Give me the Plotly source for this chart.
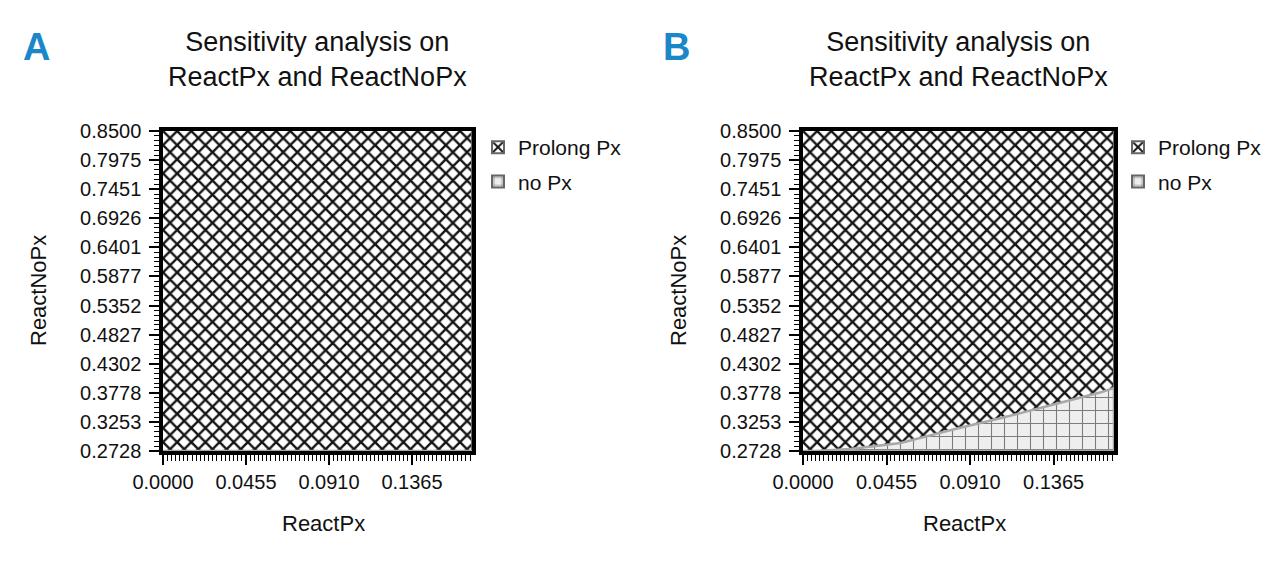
import plotly.graph_objects as go

# ---- data ----
panel_labels = ["A", "B"]
chart_title = "Sensitivity analysis on<br>ReactPx and ReactNoPx"
x_title = "ReactPx"
y_title = "ReactNoPx"
series_names = ["Prolong Px", "no Px"]

react_px_range = [0.0, 0.1694]
react_nopx_range = [0.2728, 0.8500]
x_ticks = [0.0000, 0.0455, 0.0910, 0.1365]
y_ticks = [0.8500, 0.7975, 0.7451, 0.6926, 0.6401, 0.5877,
           0.5352, 0.4827, 0.4302, 0.3778, 0.3253, 0.2728]

# threshold curve (ReactNoPx below which "no Px" is preferred)
boundary_A_x = [0.0, 0.1694]
boundary_A_y = [0.2728, 0.2728]
boundary_B_x = [0.0, 0.0066, 0.0258, 0.0532, 0.0806, 0.1080, 0.1354, 0.1628, 0.1694]
boundary_B_y = [0.2728, 0.2728, 0.2764, 0.2872, 0.3107, 0.3323, 0.3558, 0.3792, 0.3864]

# ---- styling ----
FONT = "Liberation Sans"
px_x0, px_x1 = react_px_range
py_y0, py_y1 = react_nopx_range

prolong_pattern = dict(shape="x", size=10, solidity=0.42, fgcolor="#141414",
                       bgcolor="white", fillmode="replace")
nopx_pattern = dict(shape="+", size=13, solidity=0.16, fgcolor="#7c7c7c",
                    bgcolor="#eeeeee", fillmode="replace")

W, H = 1280, 582
OFF = 8  # page body margin


def fx(p):
    return (p - OFF) / W


def fy(p):
    return (H - (p - OFF)) / H


domains = [(fx(163), fx(472)), (fx(803), fx(1114))]
ydom = (fy(451), fy(131))

fig = go.Figure()
boundaries = [(boundary_A_x, boundary_A_y), (boundary_B_x, boundary_B_y)]
for i, (bx, by) in enumerate(boundaries):
    xa = "x" if i == 0 else "x2"
    ya = "y" if i == 0 else "y2"
    lg = "legend" if i == 0 else "legend2"
    # Prolong Px: full region
    fig.add_trace(go.Bar(
        x=[(px_x0 + px_x1) / 2], width=[px_x1 - px_x0],
        base=[py_y0], y=[py_y1 - py_y0],
        name=series_names[0], xaxis=xa, yaxis=ya, legend=lg,
        legendgroup="p%d" % i,
        marker=dict(color="white", pattern=prolong_pattern,
                    line=dict(color="#666", width=1)),
        hoverinfo="skip"))
    # no Px region below threshold curve
    poly_x = list(bx) + [bx[-1], bx[0]]
    poly_y = list(by) + [py_y0, py_y0]
    fig.add_trace(go.Scatter(
        x=poly_x, y=poly_y, fill="toself", mode="lines",
        line=dict(color="#a8a8a8", width=2.5),
        fillpattern=nopx_pattern, fillcolor="#eeeeee",
        showlegend=False, xaxis=xa, yaxis=ya, hoverinfo="skip"))
    # legend entry for no Px
    fig.add_trace(go.Bar(
        x=[(px_x0 + px_x1) / 2], width=[px_x1 - px_x0],
        base=[py_y0], y=[0],
        name=series_names[1], xaxis=xa, yaxis=ya, legend=lg,
        legendgroup="n%d" % i,
        marker=dict(color="#eeeeee", pattern=nopx_pattern,
                    line=dict(color="#666", width=1)),
        hoverinfo="skip"))

axis_common = dict(
    showline=True, linewidth=3.5, linecolor="black", mirror=True,
    ticks="outside", tickcolor="black", tickwidth=1.5,
    showgrid=False, zeroline=False, fixedrange=True,
    tickfont=dict(family=FONT, size=20, color="#111"),
)

layout = dict(
    width=W, height=H, margin=dict(l=0, r=0, t=0, b=0, autoexpand=False),
    paper_bgcolor="white", plot_bgcolor="white",
    barmode="overlay", bargap=0,
    font=dict(family=FONT, color="#111"),
    annotations=[],
)
for i in range(2):
    sx = "" if i == 0 else "2"
    layout["xaxis" + sx] = dict(
        axis_common, domain=domains[i], range=react_px_range,
        tickvals=x_ticks, tickformat=".4f", ticklen=10,
        minor=dict(ticks="outside", dtick=0.0455 / 20, ticklen=6,
                   tickcolor="black", tickwidth=1),
        anchor="y" + sx)
    layout["yaxis" + sx] = dict(
        axis_common, domain=ydom, range=react_nopx_range,
        tickvals=y_ticks, tickformat=".4f", ticklen=10, ticklabelstandoff=4,
        minor=dict(ticks="outside", tickvals=[
            y_ticks[-1] + k * (y_ticks[0] - y_ticks[-1]) / 66 for k in range(67)],
            ticklen=5, tickcolor="black", tickwidth=1),
        anchor="x" + sx)
    d0, d1 = domains[i]
    cx = (d0 + d1) / 2
    layout["annotations"] += [
        dict(text=chart_title, x=cx, y=fy(59), xref="paper", yref="paper",
             xanchor="center", yanchor="middle", showarrow=False,
             font=dict(family=FONT, size=27, color="#111")),
        dict(text=x_title, x=cx + 6 / W, y=fy(523), xref="paper", yref="paper",
             xanchor="center", yanchor="middle", showarrow=False,
             font=dict(family=FONT, size=22, color="#111")),
        dict(text=y_title, x=d0 - 125 / W, y=(ydom[0] + ydom[1]) / 2,
             xref="paper", yref="paper", textangle=-90,
             xanchor="center", yanchor="middle", showarrow=False,
             font=dict(family=FONT, size=22, color="#111")),
        dict(text="<b>" + panel_labels[i] + "</b>", x=d0 - 127 / W, y=fy(47),
             xref="paper", yref="paper", xanchor="center", yanchor="middle",
             showarrow=False, font=dict(family=FONT, size=38, color="#1b87c9")),
    ]

leg_common = dict(yanchor="top", y=fy(127), xanchor="left",
                  bgcolor="rgba(0,0,0,0)", font=dict(family=FONT, size=21, color="#111"),
                  itemsizing="constant", traceorder="grouped", tracegroupgap=4,
                  itemwidth=30)
layout["legend"] = dict(leg_common, x=fx(478))
layout["legend2"] = dict(leg_common, x=fx(1118))

fig.update_layout(**layout)
fig.write_html("out.html")
